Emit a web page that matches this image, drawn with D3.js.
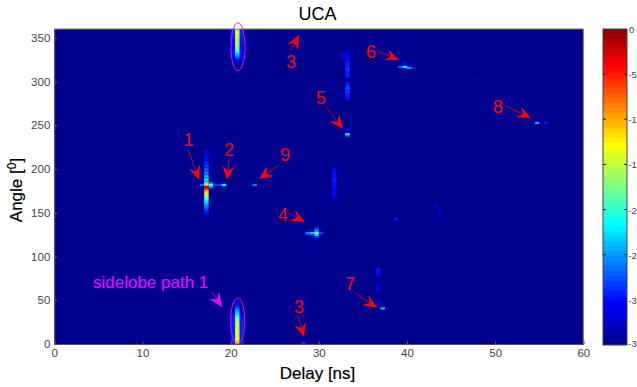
<!DOCTYPE html>
<html><head><meta charset="utf-8">
<script src="https://cdn.jsdelivr.net/npm/d3@7"></script>
<style>
html,body{margin:0;padding:0;background:#fff;overflow:hidden}
svg{display:block}
text{font-family:"Liberation Sans",Arial,sans-serif}
</style></head><body>
<svg id="c" width="637" height="387"></svg>
<script>
// ---------- data (delay ns, angle deg, dB) ----------
const title = "UCA", xLabel = "Delay [ns]";
const delayTicks = [0,10,20,30,40,50,60];
const angleTicks = [0,50,100,150,200,250,300,350];
const dbTicks = [0,-5,-10,-15,-20,-25,-30,-35];
const dbTickLabels = ["0","-5","-1","-1","-2","-2","-3","-3"];
const dbFloor = -35, delayStep = 0.5, angleStep = 2;

// vertical runs: delay, top angle, dB per 2-degree row going downward
const path1Column = [17.25, 222, [-33,-32,-33,-31,-32,-30,-31,-29,-30,-28,-29,-27,-28,-26,-27,-24,-26,-22,-25,-19,-12,-3,-5,-9,-11,-14,-16,-18,-20,-22,-23,-25,-26,-27,-28,-29,-30,-32,-33]];
const lobeTopCenter = [20.75, 360, [-15,-15,-14,-14,-14,-15,-15,-15,-15,-16,-17,-18,-19,-21,-23,-25,-27,-29,-31,-33]];
const lobeTopLeft = [20.25, 360, [-29,-29,-29,-29,-29,-29,-30,-30,-30,-30,-31,-31,-30,-30,-30,-30,-31,-32,-33,-33]];
const lobeTopRight = [21.25, 360, [-29,-29,-29,-29,-29,-29,-30,-30,-30,-30,-31,-31,-30,-30,-30,-30,-31,-32,-33,-33]];
const lobeBottomCenter = [20.75, 50, [-33,-32,-31,-29,-28,-26,-25,-23,-22,-20,-18,-17,-16,-15,-15,-14,-14,-14,-14,-14,-14,-14,-13,-12,-11,-10]];
const lobeBottomLeft = [20.25, 38, [-33,-32,-31,-30,-29,-29,-29,-29,-29,-29,-29,-29,-29,-29,-29,-29,-29,-29,-29,-29]];
const lobeBottomRight = [21.25, 38, [-33,-32,-31,-30,-29,-29,-29,-29,-29,-29,-29,-29,-29,-29,-29,-29,-29,-29,-29,-29]];
const path5Column = [33.25, 334, [-32,-32,-31,-31,-31,-31,-29,-29,-29,-29,-28,-29,-29,-29,-29,-35,-35,-35,-29,-29,-28,-28,-29,-28,-29,-29,-30,-30]];
const path5Upper = [32.75, 334, [-33,-32,-32,-32,-33]];
const midColumn = [31.75, 200, [-31,-31,-30,-30,-30,-30,-29,-30,-30,-30,-30,-31,-31,-31,-30,-31,-31]];
const path7Column = [36.75, 86, [-30,-30,-30,-30,-35,-35,-35,-35,-33,-35,-31,-31,-31,-35,-35,-35,-35,-35,-32,-32]];
const faintColumn = [43.75, 154, [-33,-33,-33,-33,-33]];

// isolated cells: [delay, angle, dB]
const path1Streak = [[16.75,182,-27],[17.75,182,-20],[17.75,184,-26],[17.75,180,-25],[17.75,178,-29],[18.25,182,-28],[18.75,182,-28],[19.25,182,-21],[19.25,184,-31],[19.25,180,-31]];
const path9Cells = [[22.75,182,-26],[22.25,182,-33]];
const path4Cells = [[28.75,127,-26],[28.75,125,-30],[29.25,127,-24],[29.25,125,-29],[29.75,127,-18],[29.75,125,-23],[29.75,129,-25],[29.75,131,-27],[29.75,133,-29],[29.75,123,-28],[29.75,121,-31],[30.25,127,-28]];
const path5Cells = [[33.25,240,-22],[33.25,238,-28],[33.25,246,-31],[33.75,256,-32],[32.25,286,-32],[33.25,183,-33]];
const path6Cells = [[39.75,317,-22],[39.25,317,-27],[40.25,316,-25],[40.75,316,-29],[39.75,320,-30],[39.75,322,-31],[47.75,304,-33]];
const path8Cells = [[54.75,253,-25],[55.75,253,-30]];
const path7Cells = [[37.25,41,-24],[37.75,41,-31]];
const path3Cells = [[28.25,0,-28],[28.25,2,-29],[27.75,358,-33]];
const lobeSideCells = [[19.75,338,-33],[19.75,340,-33],[21.75,338,-33],[22.25,338,-34],[19.75,24,-33],[19.75,22,-33],[21.75,22,-34],[21.75,24,-34]];
const faintCells = [[38.75,143,-30],[43.25,159,-33],[43.25,157,-33],[43.25,139,-33],[43.25,137,-33],[34.25,130,-34]];

// annotation text and arrows
const redLabels = [["1",188.5,139],["2",229,149],["9",285,154],["3",291,61],["5",321,97],["6",371,51],["8",498,106],["4",283,214],["7",350,283],["3",299,306]];
const redArrows = [[188,149,199,180],[229,159,227,180],[279,165,259,179],[291,50,299,35],[326,107,343,129],[377,51,399,60],[504,105,531,118],[288,213,305,222],[355,293,377,308],[298,316,304,337]];
const magentaArrows = [[212,292,222,307]];
const ellipses = [[238,46.7,7,24],[237.7,321,7,23]];

// ---------- build ----------
const svg = d3.select("#c");
const plot = {l:54.3,r:583.3,t:29,b:344};
const x = d3.scaleLinear().domain([0,60]).range([plot.l,plot.r]);
const y = d3.scaleLinear().domain([0,360]).range([plot.b,plot.t]);

// MATLAB jet, 64 levels
const jet = d3.scaleLinear().domain([0,8,24,40,56,64]).range(["#00008f","#0000ff","#00ffff","#ffff00","#ff0000","#800000"]).interpolate(d3.interpolateRgb);
const level = v => Math.max(0,Math.min(63,Math.floor((v-dbFloor)/(-dbFloor)*64)));
const color = v => jet(level(v));

const columns = [path1Column,lobeTopCenter,lobeTopLeft,lobeTopRight,lobeBottomCenter,lobeBottomLeft,lobeBottomRight,path5Column,path5Upper,midColumn,path7Column,faintColumn];
const cells = [];
columns.forEach(([d,top,vals]) => vals.forEach((v,i) => { if(v>dbFloor) cells.push([d,top-i*angleStep,v]); }));
[path1Streak,path9Cells,path4Cells,path5Cells,path6Cells,path8Cells,path7Cells,path3Cells,lobeSideCells,faintCells].forEach(a => cells.push(...a));
cells.sort((a,b)=>a[2]-b[2]);

svg.append("defs").append("clipPath").attr("id","pc").append("rect")
  .attr("x",plot.l).attr("y",plot.t).attr("width",plot.r-plot.l).attr("height",plot.b-plot.t);

svg.append("rect").attr("x",plot.l).attr("y",plot.t).attr("width",plot.r-plot.l).attr("height",plot.b-plot.t).attr("fill",color(dbFloor));

svg.append("g").attr("clip-path","url(#pc)").append("g").style("filter","blur(0.5px)")
  .selectAll("rect").data(cells).join("rect")
  .attr("x",d=>x(d[0]-delayStep/2)).attr("width",d=>x(delayStep)-x(0))
  .attr("y",d=>y(d[1]+angleStep/2)).attr("height",d=>y(0)-y(angleStep)+0.5)
  .attr("fill",d=>color(d[2]));

// axes
const axisFill = "#444";
const xa = svg.append("g").attr("transform",`translate(0,${plot.b})`).call(d3.axisBottom(x).tickValues(delayTicks).tickSize(-3).tickPadding(5));
const ya = svg.append("g").attr("transform",`translate(${plot.l},0)`).call(d3.axisLeft(y).tickValues(angleTicks).tickSize(-3).tickPadding(4));
[xa,ya].forEach(g=>{g.selectAll("text").attr("font-size",11.5).attr("fill",axisFill).style("font-family","'Liberation Sans',Arial,sans-serif");
  g.selectAll("line").attr("stroke","#555");g.select(".domain").attr("stroke","#555");});
svg.append("path").attr("d",`M${plot.l},${plot.t}H${plot.r}V${plot.b}`).attr("fill","none").attr("stroke","#777");

// colorbar
const cb = {l:603,r:627,t:29,b:345};
const cy = d3.scaleLinear().domain([dbFloor,0]).range([cb.b,cb.t]);
svg.append("g").selectAll("rect").data(d3.range(64).reverse()).join("rect")
  .attr("x",cb.l).attr("width",cb.r-cb.l)
  .attr("y",i=>cy(dbFloor+(i+1)*(-dbFloor)/64)).attr("height",i=>cb.b-cy(dbFloor+(i+1)*(-dbFloor)/64))
  .attr("fill",i=>jet(i));
svg.append("rect").attr("x",cb.l).attr("y",cb.t).attr("width",cb.r-cb.l).attr("height",cb.b-cb.t).attr("fill","none").attr("stroke","#444");
const cbt = svg.append("g");
cbt.selectAll("path").data(dbTicks.slice(1,-1)).join("path")
  .attr("d",d=>`M${cb.l},${cy(d)}h3M${cb.r},${cy(d)}h-3`).attr("stroke","#222");
cbt.selectAll("text").data(dbTicks).join("text")
  .attr("x",(d,i)=>i===0?629:636.8).attr("text-anchor",(d,i)=>i===0?"start":"end").attr("y",(d,i)=>i===7?cy(d)+2:cy(d)+4).attr("font-size",9.5).attr("fill",axisFill)
  .text((d,i)=>dbTickLabels[i]);

// titles
svg.append("text").attr("x",317.5).attr("y",20).attr("text-anchor","middle").attr("font-size",18).attr("fill","#000").text(title);
svg.append("text").attr("x",317.5).attr("y",379).attr("text-anchor","middle").attr("font-size",17).attr("fill","#000").attr("stroke","#000").attr("stroke-width",0.2).text(xLabel);
const yl = svg.append("text").attr("transform","translate(22,190) rotate(-90)").attr("text-anchor","middle").attr("font-size",17).attr("fill","#000").attr("stroke","#000").attr("stroke-width",0.2);
yl.append("tspan").text("Angle [");
yl.append("tspan").attr("dy",-6).attr("font-size",12).text("0");
yl.append("tspan").attr("dy",6).text("]");

// annotations
function arrow(g,[x1,y1,x2,y2],col){
  const a=Math.atan2(y2-y1,x2-x1),L=14,W=6,B=9;
  const p=(f,s)=>[x2-f*Math.cos(a)-s*Math.sin(a),y2-f*Math.sin(a)+s*Math.cos(a)];
  g.append("line").attr("x1",x1).attr("y1",y1).attr("x2",p(B,0)[0]).attr("y2",p(B,0)[1]).attr("stroke",col).attr("stroke-width",0.7);
  g.append("path").attr("d",d3.line()([[x2,y2],p(L,W),p(B,0),p(L,-W)])+"Z").attr("fill",col);
}
const ann = svg.append("g");
redArrows.forEach(a=>arrow(ann,a,"#ff0000"));
magentaArrows.forEach(a=>arrow(ann,a,"#ff00ff"));
ann.selectAll("text.r").data(redLabels).join("text").attr("class","r")
  .attr("x",d=>d[1]).attr("y",d=>d[2]+6.5).attr("text-anchor","middle").attr("font-size",18).attr("fill","#ff0000").text(d=>d[0]);
ann.append("text").attr("x",93).attr("y",288).attr("font-size",17).attr("fill","#ff00ff").text("sidelobe path 1");
ann.selectAll("ellipse").data(ellipses).join("ellipse")
  .attr("cx",d=>d[0]).attr("cy",d=>d[1]).attr("rx",d=>d[2]).attr("ry",d=>d[3])
  .attr("fill","none").attr("stroke","#ff00ff").attr("stroke-width",0.9);
</script>
</body></html>
